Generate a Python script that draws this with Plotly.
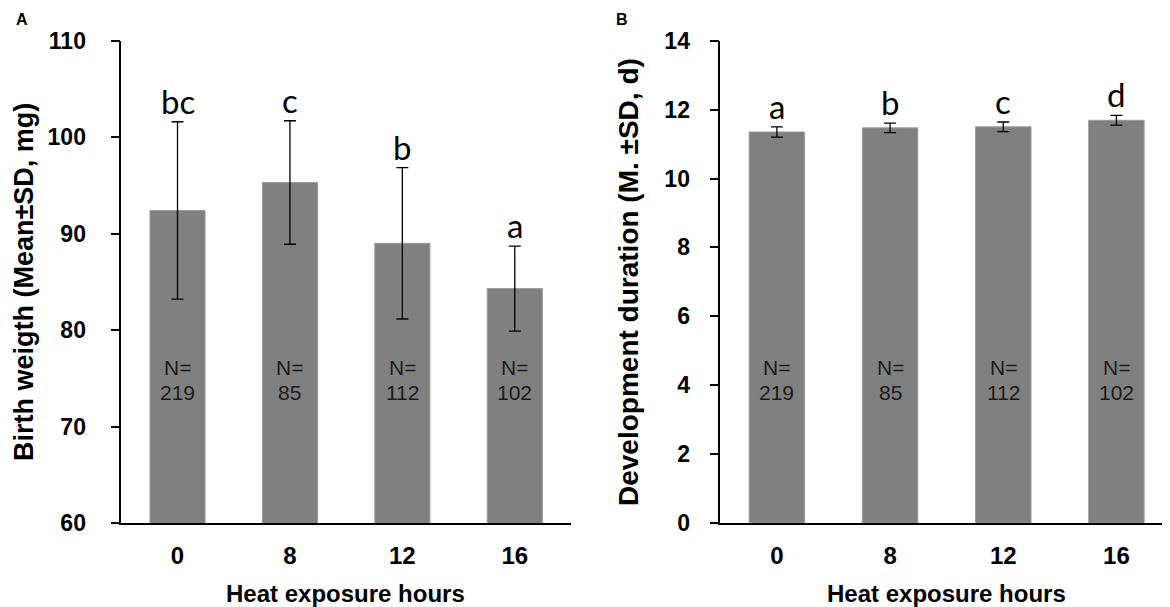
import plotly.graph_objects as go

# heat exposure groups
hours = ["0", "8", "12", "16"]
n_labels = ["219", "85", "112", "102"]

# panel A: birth weight (mg)
weight_mean = [92.4, 95.3, 89.0, 84.3]
weight_sd = [9.2, 6.4, 7.85, 4.4]
weight_letters = ["bc", "c", "b", "a"]

# panel B: development duration (d)
dur_mean = [11.35, 11.47, 11.50, 11.69]
dur_sd = [0.15, 0.14, 0.14, 0.14]
dur_letters = ["a", "b", "c", "d"]

W, H = 1170, 607
bar_col = "#808080"
bold_font = "Liberation Sans"


def px_x(p):
    return p / W


def px_y(p):
    return 1 - p / H


fig = go.Figure()

fig.add_trace(go.Bar(
    x=hours, y=weight_mean, width=0.49,
    marker=dict(color=bar_col, line=dict(color="#9a9a9a", width=1)),
    error_y=dict(type="data", array=weight_sd, color="black", thickness=1.3, width=6),
    xaxis="x", yaxis="y", showlegend=False))

fig.add_trace(go.Bar(
    x=hours, y=dur_mean, width=0.49,
    marker=dict(color=bar_col, line=dict(color="#9a9a9a", width=1)),
    error_y=dict(type="data", array=dur_sd, color="black", thickness=1.3, width=6),
    xaxis="x2", yaxis="y2", showlegend=False))

ydom = [px_y(515), px_y(32.7)]
# automargin off so the domains stay where they were measured
axis_common = dict(showline=True, linecolor="black", linewidth=1.5,
                   showgrid=False, zeroline=False, automargin=False)
xtick_font = dict(family=bold_font, size=24, color="black", weight="bold")
ytick_font = dict(family=bold_font, size=23, color="black", weight="bold")

fig.update_layout(
    width=W, height=H,
    margin=dict(l=0, r=0, t=0, b=0),
    plot_bgcolor="white", paper_bgcolor="white",
    xaxis=dict(domain=[px_x(113.3), px_x(563)], anchor="y", type="category",
               range=[-0.5, 3.5], ticks="", ticklabelstandoff=10,
               tickfont=xtick_font, **axis_common),
    yaxis=dict(domain=ydom, anchor="x", range=[60, 110],
               tickvals=[60, 70, 80, 90, 100, 110],
               ticks="outside", ticklen=9, tickwidth=1.5, tickcolor="black",
               ticklabelstandoff=20, tickfont=ytick_font, **axis_common),
    xaxis2=dict(domain=[px_x(712.3), px_x(1165)], anchor="y2", type="category",
                range=[-0.5, 3.5], ticks="", ticklabelstandoff=10,
                tickfont=xtick_font, **axis_common),
    yaxis2=dict(domain=ydom, anchor="x2", range=[0, 14],
                tickvals=[0, 2, 4, 6, 8, 10, 12, 14],
                ticks="outside", ticklen=9, tickwidth=1.5, tickcolor="black",
                ticklabelstandoff=15, tickfont=ytick_font, **axis_common),
)

# significance letters and sample sizes
letter_font = dict(family="Lato", size=33, color="black")
n_font = dict(family="Liberation Sans", size=21, color="#1a1a1a")
for i in range(len(hours)):
    fig.add_annotation(x=i, y=weight_mean[i] + weight_sd[i], xref="x", yref="y",
                       text=weight_letters[i], showarrow=False,
                       xanchor="center", yanchor="bottom", yshift=-1, font=letter_font)
    fig.add_annotation(x=i, y=dur_mean[i] + dur_sd[i], xref="x2", yref="y2",
                       text=dur_letters[i], showarrow=False,
                       xanchor="center", yanchor="bottom", yshift=-1, font=letter_font)
    for ax, y1, y2 in (("", 76.07, 73.48), ("2", 4.50, 3.78)):
        fig.add_annotation(x=i, y=y1, xref="x" + ax, yref="y" + ax, text="N=",
                           showarrow=False, xanchor="center", yanchor="middle", font=n_font)
        fig.add_annotation(x=i, y=y2, xref="x" + ax, yref="y" + ax, text=n_labels[i],
                           showarrow=False, xanchor="center", yanchor="middle", font=n_font)

# axis titles and panel letters
ytitle_a = dict(family=bold_font, size=27, color="black", weight="bold")
ytitle_b = dict(family=bold_font, size=28, color="black", weight="bold")
xtitle_font = dict(family=bold_font, size=24, color="black", weight="bold")
panel_font = dict(family=bold_font, size=16, color="black", weight="bold")


def paper_text(x, y, text, font, angle=0):
    fig.add_annotation(x=px_x(x), y=px_y(y), xref="paper", yref="paper",
                       text=text, textangle=angle, showarrow=False,
                       xanchor="center", yanchor="middle", font=font)


paper_text(16, 274, "Birth weigth (Mean±SD, mg)", ytitle_a, -90)
paper_text(620, 274, "Development duration (M. ±SD, d)", ytitle_b, -90)
paper_text(338, 585, "Heat exposure hours", xtitle_font)
paper_text(938.7, 585, "Heat exposure hours", xtitle_font)
paper_text(14, 12, "A", panel_font)
paper_text(614, 12, "B", panel_font)

fig.write_html("out.html")
